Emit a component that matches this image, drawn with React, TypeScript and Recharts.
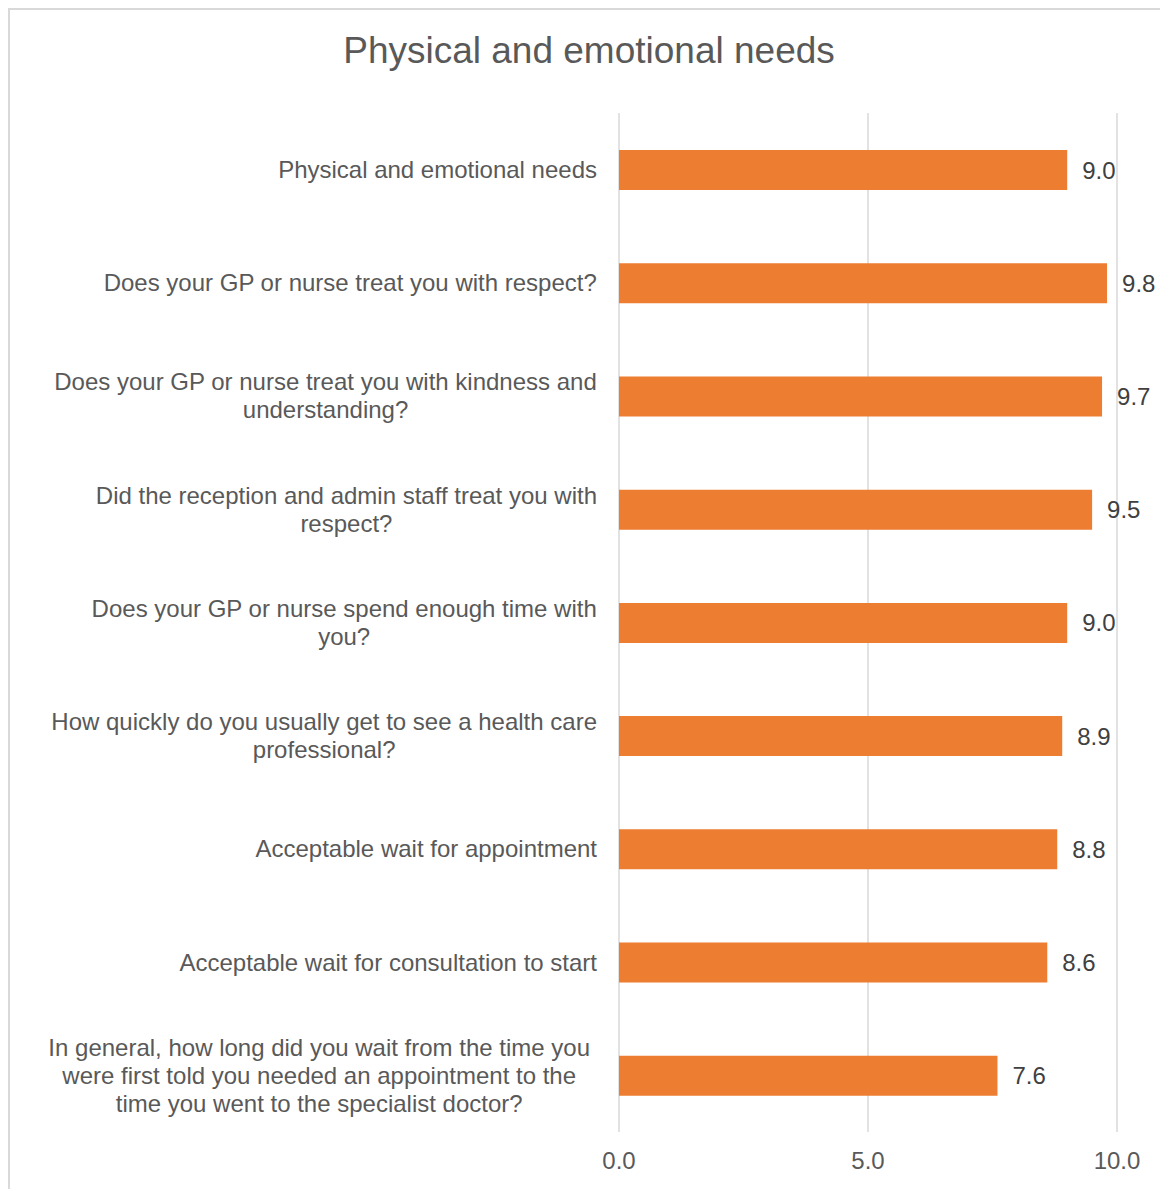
import React from 'react';
import { BarChart, Bar, XAxis, YAxis, CartesianGrid, LabelList } from 'recharts';

// category labels, with the line breaks used in the original chart
const categories = [
  'Physical and emotional needs',
  'Does your GP or nurse treat you with respect?',
  'Does your GP or nurse treat you with kindness and\nunderstanding?',
  'Did the reception and admin staff treat you with\nrespect?',
  'Does your GP or nurse spend enough time with\nyou?',
  'How quickly do you usually get to see a health care\nprofessional?',
  'Acceptable wait for appointment',
  'Acceptable wait for consultation to start',
  'In general, how long did you wait from the time you\nwere first told you needed an appointment to the\ntime you went to the specialist doctor?',
];
const scores = [9.0, 9.8, 9.7, 9.5, 9.0, 8.9, 8.8, 8.6, 7.6];
const xTicks = [0, 5, 10];

const data = categories.map((name, i) => ({ name, score: scores[i] }));

const FONT = "'Liberation Sans', Arial, sans-serif";
const TEXT = '#595959';

let ctx: CanvasRenderingContext2D | null = null;
const measure = (s: string) => {
  if (!ctx) ctx = document.createElement('canvas').getContext('2d');
  if (!ctx) return s.length * 11;
  ctx.font = `24px ${FONT}`;
  return ctx.measureText(s).width;
};

const CategoryTick = (props: any) => {
  const { x, y, payload } = props;
  const lines = String(payload.value).split('\n');
  const maxW = Math.max(...lines.map(measure));
  // long three-line labels sit in a slightly wider wrap box in the original
  const right = x - 14 - (lines.length > 2 ? 7 : 0);
  const cx = right - maxW / 2;
  const lh = 28;
  const startY = y - ((lines.length - 1) * lh) / 2;
  return (
    <text x={cx} y={startY} textAnchor="middle" fill={TEXT} fontSize={24} fontFamily={FONT}>
      {lines.map((l, i) => (
        <tspan key={i} x={cx} y={startY + i * lh} dy="0.35em">
          {l}
        </tspan>
      ))}
    </text>
  );
};

export default function App() {
  return (
    <div
      style={{
        position: 'relative',
        width: 1158,
        height: 1179,
        borderLeft: '2px solid #d9d9d9',
        borderTop: '2px solid #d9d9d9',
        fontFamily: FONT,
      }}
    >
      <div
        style={{
          position: 'absolute',
          top: 19,
          left: 0,
          width: '100%',
          textAlign: 'center',
          fontSize: 37,
          lineHeight: '44px',
          color: TEXT,
        }}
      >
        Physical and emotional needs
      </div>
      <BarChart
        width={1158}
        height={1179}
        data={data}
        layout="vertical"
        margin={{ top: 103, right: 51, left: 0, bottom: 0 }}
      >
        <CartesianGrid horizontal={false} stroke="#d9d9d9" strokeWidth={1.5} />
        <XAxis
          type="number"
          domain={[0, 10]}
          ticks={xTicks}
          height={57}
          axisLine={false}
          tickLine={false}
          tickMargin={14}
          tickFormatter={(v: number) => v.toFixed(1)}
          tick={{ fill: TEXT, fontSize: 24, fontFamily: FONT }}
        />
        <YAxis
          type="category"
          dataKey="name"
          width={609}
          axisLine={false}
          tickLine={false}
          interval={0}
          tick={<CategoryTick />}
        />
        <Bar dataKey="score" fill="#ED7D31" barSize={40} isAnimationActive={false}>
          <LabelList
            dataKey="score"
            position="right"
            offset={15}
            fill="#404040"
            fontSize={24}
            fontFamily={FONT}
            formatter={(v: any) => Number(v).toFixed(1)}
          />
        </Bar>
      </BarChart>
    </div>
  );
}
